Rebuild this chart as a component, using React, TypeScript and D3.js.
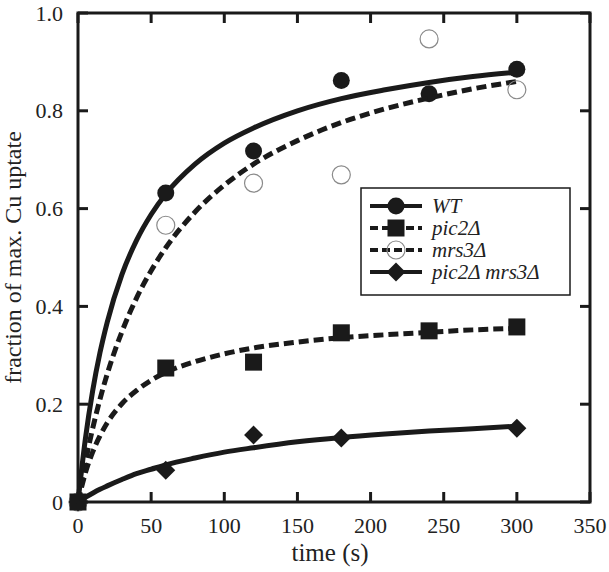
import React from "react";
import * as d3 from "d3";

// Measured data points (time in s, fraction of max Cu uptake)
const wtTimes = [0, 60, 120, 180, 240, 300];
const wtValues = [0, 0.632, 0.718, 0.862, 0.835, 0.885];
const pic2Times = [0, 60, 120, 180, 240, 300];
const pic2Values = [0, 0.274, 0.286, 0.346, 0.35, 0.358];
const mrs3Times = [0, 60, 120, 180, 240, 300];
const mrs3Values = [0, 0.566, 0.652, 0.669, 0.947, 0.843];
const dblTimes = [0, 60, 120, 180, 300];
const dblValues = [0, 0.065, 0.137, 0.131, 0.151];

// Fitted curves at sample times
const curveTimes = [0, 5, 10, 15, 20, 30, 40, 50, 60, 80, 100, 120, 150, 180, 210, 240, 270, 300];
const wtCurve = [0, 0.128, 0.227, 0.305, 0.368, 0.465, 0.535, 0.588, 0.63, 0.691, 0.734, 0.765, 0.8, 0.825, 0.843, 0.858, 0.87, 0.879];
const pic2Curve = [0, 0.059, 0.102, 0.135, 0.162, 0.201, 0.228, 0.249, 0.265, 0.287, 0.303, 0.315, 0.327, 0.336, 0.342, 0.347, 0.352, 0.355];
const mrs3Curve = [0, 0.081, 0.15, 0.21, 0.262, 0.348, 0.417, 0.473, 0.52, 0.593, 0.648, 0.691, 0.739, 0.776, 0.804, 0.826, 0.845, 0.86];
const dblCurve = [0, 0.0095, 0.018, 0.026, 0.033, 0.046, 0.058, 0.067, 0.076, 0.09, 0.102, 0.111, 0.123, 0.132, 0.139, 0.145, 0.15, 0.155];

const xTicks = [0, 50, 100, 150, 200, 250, 300, 350];
const yTicks = [0, 0.2, 0.4, 0.6, 0.8, 1.0];
const yTickLabels = ["0", "0.2", "0.4", "0.6", "0.8", "1.0"];
const legendLabels = ["WT", "pic2\u0394", "mrs3\u0394", "pic2\u0394 mrs3\u0394"];

const FONT = "Liberation Serif, Times New Roman, Times, serif";
const INK = "#1a1a1a";

type Marker = "circle" | "square" | "open" | "diamond";

function MarkerShape({ kind, x, y }: { kind: Marker; x: number; y: number }) {
  if (kind === "circle") return <circle cx={x} cy={y} r={8.5} fill={INK} />;
  if (kind === "square") return <rect x={x - 8.5} y={y - 8.5} width={17} height={17} fill={INK} />;
  if (kind === "open") return <circle cx={x} cy={y} r={9} fill="none" stroke="#8a8a8a" strokeWidth={1.2} />;
  return (
    <path
      d={`M${x},${y - 9.5}L${x + 9.5},${y}L${x},${y + 9.5}L${x - 9.5},${y}Z`}
      fill={INK}
    />
  );
}

export default function App() {
  const W = 609;
  const H = 572;
  const left = 78, right = 590, top = 13, bottom = 502;
  const x = d3.scaleLinear().domain([0, 350]).range([left, right]);
  const y = d3.scaleLinear().domain([0, 1]).range([bottom, top]);
  const line = d3
    .line<[number, number]>()
    .x((d) => x(d[0]))
    .y((d) => y(d[1]))
    .curve(d3.curveMonotoneX);

  const series = [
    { times: wtTimes, values: wtValues, curve: wtCurve, marker: "circle" as Marker, dash: undefined as string | undefined },
    { times: pic2Times, values: pic2Values, curve: pic2Curve, marker: "square" as Marker, dash: "10,5" },
    { times: mrs3Times, values: mrs3Values, curve: mrs3Curve, marker: "open" as Marker, dash: "10,5" },
    { times: dblTimes, values: dblValues, curve: dblCurve, marker: "diamond" as Marker, dash: undefined as string | undefined },
  ];
  const drawOrder = [0, 2, 3, 1];

  const tickLen = 10;
  const legend = { x: 361, y: 188, w: 209, h: 107 };
  const legendRows = [206, 228, 250, 272];

  return (
    <svg width={W} height={H} style={{ display: "block", position: "absolute", left: 0, top: 0 }}>
      <rect x={0} y={0} width={W} height={H} fill="#fff" />
      {/* series */}
      {drawOrder.map((i) => {
        const s = series[i];
        return (
          <g key={i}>
            <path
              d={line(curveTimes.map((t, j) => [t, s.curve[j]] as [number, number])) || ""}
              fill="none"
              stroke={INK}
              strokeWidth={5}
              strokeDasharray={s.dash}
            />
            {s.times.map((t, j) => (
              <MarkerShape key={j} kind={s.marker} x={x(t)} y={y(s.values[j])} />
            ))}
          </g>
        );
      })}
      {/* frame */}
      <rect x={left} y={top} width={right - left} height={bottom - top} fill="none" stroke={INK} strokeWidth={3} />
      {xTicks.map((t) => (
        <g key={"xt" + t}>
          <line x1={x(t)} x2={x(t)} y1={bottom} y2={bottom - tickLen} stroke={INK} strokeWidth={3} />
          <line x1={x(t)} x2={x(t)} y1={top} y2={top + tickLen} stroke={INK} strokeWidth={3} />
          <text x={x(t)} y={533} textAnchor="middle" fontFamily={FONT} fontSize={22} fill="#222">
            {t}
          </text>
        </g>
      ))}
      {yTicks.map((t, i) => (
        <g key={"yt" + t}>
          <line x1={left} x2={left + tickLen} y1={y(t)} y2={y(t)} stroke={INK} strokeWidth={3} />
          <line x1={right} x2={right - tickLen} y1={y(t)} y2={y(t)} stroke={INK} strokeWidth={3} />
          <text x={63} y={y(t) + 7.5} textAnchor="end" fontFamily={FONT} fontSize={22} fill="#222">
            {yTickLabels[i]}
          </text>
        </g>
      ))}
      <text x={(left + right) / 2 - 4} y={561} textAnchor="middle" fontFamily={FONT} fontSize={25} fill="#222">
        time (s)
      </text>
      <text
        transform={`translate(21, ${(top + bottom) / 2}) rotate(-90)`}
        textAnchor="middle"
        fontFamily={FONT}
        fontSize={24}
        fill="#222"
      >
        fraction of max. Cu uptate
      </text>
      {/* legend */}
      <rect x={legend.x} y={legend.y} width={legend.w} height={legend.h} fill="#fff" stroke={INK} strokeWidth={1.5} />
      {series.map((s, i) => (
        <g key={"lg" + i}>
          <line
            x1={370}
            x2={422}
            y1={legendRows[i]}
            y2={legendRows[i]}
            stroke={INK}
            strokeWidth={4}
            strokeDasharray={s.dash ? "8,4" : undefined}
          />
          <MarkerShape kind={s.marker} x={396} y={legendRows[i]} />
          <text x={432} y={legendRows[i] + 7} fontFamily={FONT} fontStyle="italic" fontSize={21} fill="#222">
            {legendLabels[i]}
          </text>
        </g>
      ))}
    </svg>
  );
}
